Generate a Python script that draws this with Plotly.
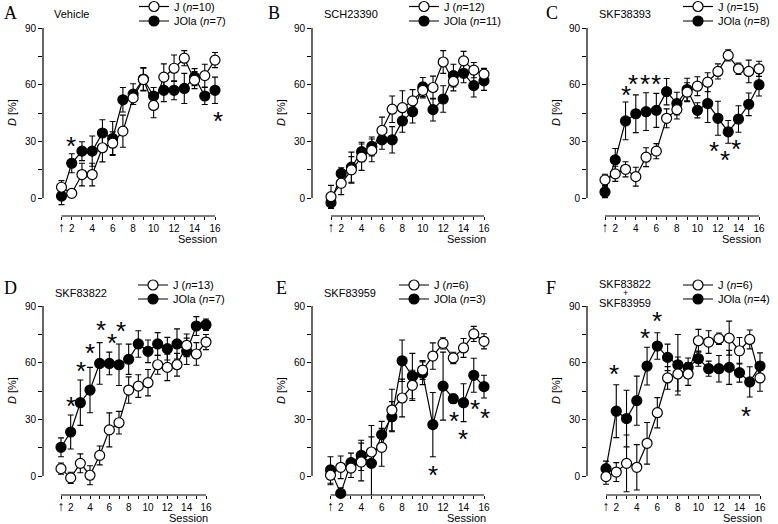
import plotly.graph_objects as go

W, H = 778, 524
sessions = list(range(1, 17))
x_ticktext = ["<span style='font-size:14px'>↑</span>", "2", "", "4", "", "6", "", "8", "", "10", "", "12", "", "14", "", "16"]
y_tickvals = [0, 15, 30, 45, 60, 75, 90]
y_ticktext = ["0", "", "30", "", "60", "", "90"]

# ---------------- data (D [%], mean and SEM per session) ----------------
A_J = [5.7, 2.5, 12.4, 12.4, 26.6, 29, 35.4, 53, 62.7, 49, 64, 68.7, 74, 62.4, 64.8, 73]
A_J_err = [3.5, 1.5, 6, 6, 7.5, 6, 8.5, 3.5, 6, 6.5, 7, 7, 4, 4.5, 6, 4]
A_JO = [1, 18.4, 24.8, 24.8, 34.4, 31.5, 52, 55, 63, 54, 57, 57, 58, 64, 54, 57]
A_JO_err = [4.5, 5, 5, 8, 7, 9, 6.5, 5.5, 6, 4.5, 6, 5, 8, 4.5, 4.5, 7]
A_star_x = [1.9, 16.25]
A_star_y = [29.6, 42.9]

B_J = [0.7, 7.8, 14.9, 21.6, 25.2, 35.8, 47, 47.8, 51.4, 57, 58.5, 72, 61.7, 72.6, 67.7, 65.6]
B_J_err = [6, 6, 7, 7, 6, 7, 7, 9, 6, 4, 6, 6, 5, 5, 4, 3]
B_JO = [-2.5, 13, 16.3, 24.5, 27.3, 30.8, 30.8, 40.8, 45.7, 58.8, 46.8, 52.4, 64.8, 66, 59.5, 62]
B_JO_err = [3, 3, 8, 5, 5, 5, 7, 6, 6, 5, 6, 7, 6, 5, 6, 5]
B_star_x = []
B_star_y = []

C_J = [9.6, 12.8, 15.2, 11.3, 21.6, 24.8, 42.2, 46.8, 56, 59.2, 61.3, 67, 75.5, 68.4, 67, 68.4]
C_J_err = [3, 4, 4, 5, 5, 4, 5, 5, 5, 5, 5, 4, 3, 3, 6, 4]
C_JO = [3.2, 20.2, 40.8, 44.6, 45.7, 46.4, 56.3, 50, 57.4, 46.4, 50, 42.2, 35, 41.8, 49.6, 60]
C_JO_err = [3, 6, 10, 10, 10, 9, 7, 6, 6, 4, 10, 9, 6, 7, 6, 6]
C_star_x = [3, 3.75, 4.9, 5.95, 11.63, 12.68, 13.78]
C_star_y = [56.7, 62.4, 62.7, 62.7, 27, 22.3, 28.3]

D_J = [3.9, -1, 6.7, 0.4, 10.9, 24.4, 28.2, 45.5, 47.6, 49.4, 58.9, 57.5, 58.9, 69.2, 64.6, 70.9]
D_J_err = [3, 3, 5, 5, 5, 9, 6, 7, 6, 7, 5, 7, 6, 6, 6, 4]
D_JO = [15.2, 23.3, 38.8, 45.5, 59.6, 59.6, 58.9, 61.8, 69.9, 66, 69.9, 67.4, 69.9, 66, 79.4, 80.1]
D_JO_err = [5, 9, 12, 12, 11, 6, 11, 8, 7, 6, 6, 6, 8, 7, 5, 3]
D_star_x = [2.0, 3.1, 4.0, 5.1, 6.3, 7.2]
D_star_y = [39.4, 57.9, 67, 79.4, 72.3, 79]

E_J = [0.4, 4.6, 4.2, 7.4, 12.7, 15.2, 34.9, 41.3, 48, 56.1, 63.5, 70.2, 62.5, 67.8, 75.2, 71.3]
E_J_err = [5, 6, 5, 10, 8, 10, 11, 10, 8, 5, 7, 3, 3, 5, 4, 4]
E_JO = [3.2, -9.2, 7.1, 10.9, 6.7, 21.9, 31.4, 61, 52.9, 54.4, 27.2, 47.6, 40.9, 38.8, 53.3, 47.3]
E_JO_err = [7, 3, 5, 8, 20, 7, 8, 11, 12, 6, 17, 18, 2.5, 10, 9, 6]
E_star_x = [11.04, 13.05, 13.93, 15.09, 16.06]
E_star_y = [2.8, 31.4, 21.9, 37.4, 32.8]

F_J = [-0.35, 2.1, 6.7, 4.6, 17.3, 33.5, 51.9, 54, 54, 71.6, 70.9, 72.7, 73, 66.3, 72.3, 51.9]
F_J_err = [4, 5, 15, 12, 11, 8, 6, 9, 6, 6, 6, 3, 9, 7, 5, 7]
F_JO = [3.9, 34.3, 30.4, 39.9, 58.2, 68.8, 62.8, 58.9, 57.5, 62.1, 56.8, 56.8, 57.5, 54.7, 49.8, 58.2]
F_JO_err = [4, 14, 15, 13, 10, 7, 7, 16, 5, 4, 4, 7, 9, 5, 8, 7]
F_star_x = [1.79, 4.8, 5.94, 14.67]
F_star_y = [56.1, 75.2, 84, 34]

panels = [
    dict(letter="A", drug=["Vehicle"], nJ=10, nJO=7, J=A_J, Je=A_J_err, JO=A_JO, JOe=A_JO_err, sx=A_star_x, sy=A_star_y),
    dict(letter="B", drug=["SCH23390"], nJ=12, nJO=11, J=B_J, Je=B_J_err, JO=B_JO, JOe=B_JO_err, sx=B_star_x, sy=B_star_y),
    dict(letter="C", drug=["SKF38393"], nJ=15, nJO=8, J=C_J, Je=C_J_err, JO=C_JO, JOe=C_JO_err, sx=C_star_x, sy=C_star_y),
    dict(letter="D", drug=["SKF83822"], nJ=13, nJO=7, J=D_J, Je=D_J_err, JO=D_JO, JOe=D_JO_err, sx=D_star_x, sy=D_star_y),
    dict(letter="E", drug=["SKF83959"], nJ=6, nJO=3, J=E_J, Je=E_J_err, JO=E_JO, JOe=E_JO_err, sx=E_star_x, sy=E_star_y),
    dict(letter="F", drug=["SKF83822", "+", "SKF83959"], nJ=6, nJO=4, J=F_J, Je=F_J_err, JO=F_JO, JOe=F_JO_err, sx=F_star_x, sy=F_star_y),
]

# ---------------- layout geometry (pixels) ----------------
geom = [
    dict(ax=43, s1=61.5, s16=215, top=28, zero=198, xline=216, letter=(2, 13), drug=(52, [14]), leg=(138, 6.5, 21)),
    dict(ax=312, s1=331, s16=484, top=28, zero=198, xline=216, letter=(266, 13), drug=(322, [14]), leg=(408, 6.5, 21)),
    dict(ax=587, s1=605, s16=759, top=28, zero=198, xline=216, letter=(544, 13), drug=(597, [14]), leg=(682, 6.5, 21)),
    dict(ax=43, s1=61, s16=206, top=306, zero=476, xline=495, letter=(2, 288), drug=(53, [293]), leg=(137, 285, 299)),
    dict(ax=312, s1=330.5, s16=484, top=306, zero=476, xline=495, letter=(274, 288), drug=(322, [293]), leg=(398, 285, 299)),
    dict(ax=587, s1=606, s16=760, top=306, zero=476, xline=495, letter=(544, 288), drug=(625, [284, 293, 303]), leg=(682, 285, 299)),
]

FONT = "Liberation Sans, Arial, Helvetica, sans-serif"
fig = go.Figure()
layout = dict(
    width=W, height=H, margin=dict(l=0, r=0, t=0, b=0, autoexpand=False),
    paper_bgcolor="white", plot_bgcolor="white",
    font=dict(family=FONT, size=10, color="black"),
    showlegend=True,
)
shapes, annotations = [], []

for i, (p, g) in enumerate(zip(panels, geom), start=1):
    xid = "x" if i == 1 else f"x{i}"
    yid = "y" if i == 1 else f"y{i}"
    per = (g["s16"] - g["s1"]) / 15.0
    xmin = 1 - (g["s1"] - g["ax"]) / per
    right_px = g["s16"] + 9
    xmax = 16 + 9 / per
    per_y = (g["zero"] - g["top"]) / 90.0
    ymin = -(g["xline"] - g["zero"]) / per_y
    layout["xaxis" if i == 1 else f"xaxis{i}"] = dict(
        domain=[g["ax"] / W, right_px / W], range=[xmin, xmax], anchor=yid,
        tickvals=sessions, ticktext=x_ticktext, ticks="outside", ticklen=3,
        tickwidth=1, tickcolor="black", showline=False, showgrid=False, tickangle=0,
        zeroline=False, tickfont=dict(size=10, family=FONT, color="black"),
    )
    layout["yaxis" if i == 1 else f"yaxis{i}"] = dict(
        domain=[1 - g["xline"] / H, 1 - g["top"] / H], range=[ymin, 90], anchor=xid,
        tickvals=y_tickvals, ticktext=y_ticktext, ticks="outside", ticklen=4,
        tickwidth=1, tickcolor="black", showline=False, showgrid=False,
        zeroline=False, tickfont=dict(size=10, family=FONT, color="black"),
    )
    xd = f"{xid} domain"
    yd = f"{yid} domain"
    shapes.append(dict(type="line", xref=xd, yref=yid, x0=0, x1=0, y0=0, y1=90,
                       line=dict(color="black", width=1.2), layer="below"))
    shapes.append(dict(type="line", xref=xid, yref=yd, x0=1, x1=16, y0=0, y1=0,
                       line=dict(color="black", width=1.2), layer="below"))

    leg_j = f"legend{2 * i - 1}" if (2 * i - 1) > 1 else "legend"
    leg_o = f"legend{2 * i}"
    lx, ly1, ly2 = g["leg"]
    for lg, ly in ((leg_j, ly1), (leg_o, ly2)):
        layout[lg] = dict(x=(lx - 4) / W, y=1 - ly / H, xanchor="left", yanchor="middle",
                          bgcolor="rgba(0,0,0,0)", borderwidth=0,
                          font=dict(size=11, family=FONT, color="black"),
                          itemwidth=30, tracegroupgap=0)

    fig.add_trace(go.Scatter(
        x=sessions, y=p["JO"], mode="lines+markers", xaxis=xid, yaxis=yid,
        name=f"JOla (<i>n</i>={p['nJO']})", legend=leg_o, cliponaxis=False,
        line=dict(color="black", width=1.2),
        marker=dict(size=10, color="black", line=dict(color="black", width=1.2)),
        error_y=dict(type="data", array=p["JOe"], color="black", thickness=1.1, width=3),
    ))
    fig.add_trace(go.Scatter(
        x=sessions, y=p["J"], mode="lines+markers", xaxis=xid, yaxis=yid,
        name=f"J (<i>n</i>={p['nJ']})", legend=leg_j, cliponaxis=False,
        line=dict(color="black", width=1.2),
        marker=dict(size=10, color="white", line=dict(color="black", width=1.2)),
        error_y=dict(type="data", array=p["Je"], color="black", thickness=1.1, width=3),
    ))

    # asterisks
    for sx, sy in zip(p["sx"], p["sy"]):
        annotations.append(dict(x=sx, y=sy, xref=xid, yref=yid, text="*", showarrow=False,
                                font=dict(size=26, family=FONT, color="black"), yshift=-4))
    # panel letter
    lpx, lpy = g["letter"]
    annotations.append(dict(x=lpx / W, y=1 - lpy / H, xref="paper", yref="paper", text=p["letter"],
                            showarrow=False, xanchor="left", yanchor="middle",
                            font=dict(size=18, family="Liberation Serif, Times New Roman, serif")))
    # drug label
    dpx, dpys = g["drug"]
    for line_txt, dpy in zip(p["drug"], dpys):
        annotations.append(dict(x=dpx / W, y=1 - dpy / H, xref="paper", yref="paper", text=line_txt,
                                showarrow=False, xanchor="center" if len(p["drug"]) > 1 else "left",
                                yanchor="middle", font=dict(size=11 if line_txt != "+" else 9, family=FONT)))
    # Session label
    annotations.append(dict(x=(g["s16"] + 4) / W, y=1 - (g["xline"] + 23) / H, xref="paper", yref="paper",
                            text="Session", showarrow=False, xanchor="right", yanchor="middle",
                            font=dict(size=11, family=FONT)))
    # y-axis title
    annotations.append(dict(x=(g["ax"] - 31) / W, y=1 - (g["zero"] - 45 * per_y) / H, xref="paper", yref="paper",
                            text="<i>D</i> [%]", textangle=-90, showarrow=False,
                            xanchor="center", yanchor="middle", font=dict(size=11, family=FONT)))

layout["shapes"] = shapes
layout["annotations"] = annotations
fig.update_layout(**layout)
fig.write_html("out.html", config={"displayModeBar": False},
               post_script="document.body.style.margin='0';document.body.style.overflow='hidden';")
